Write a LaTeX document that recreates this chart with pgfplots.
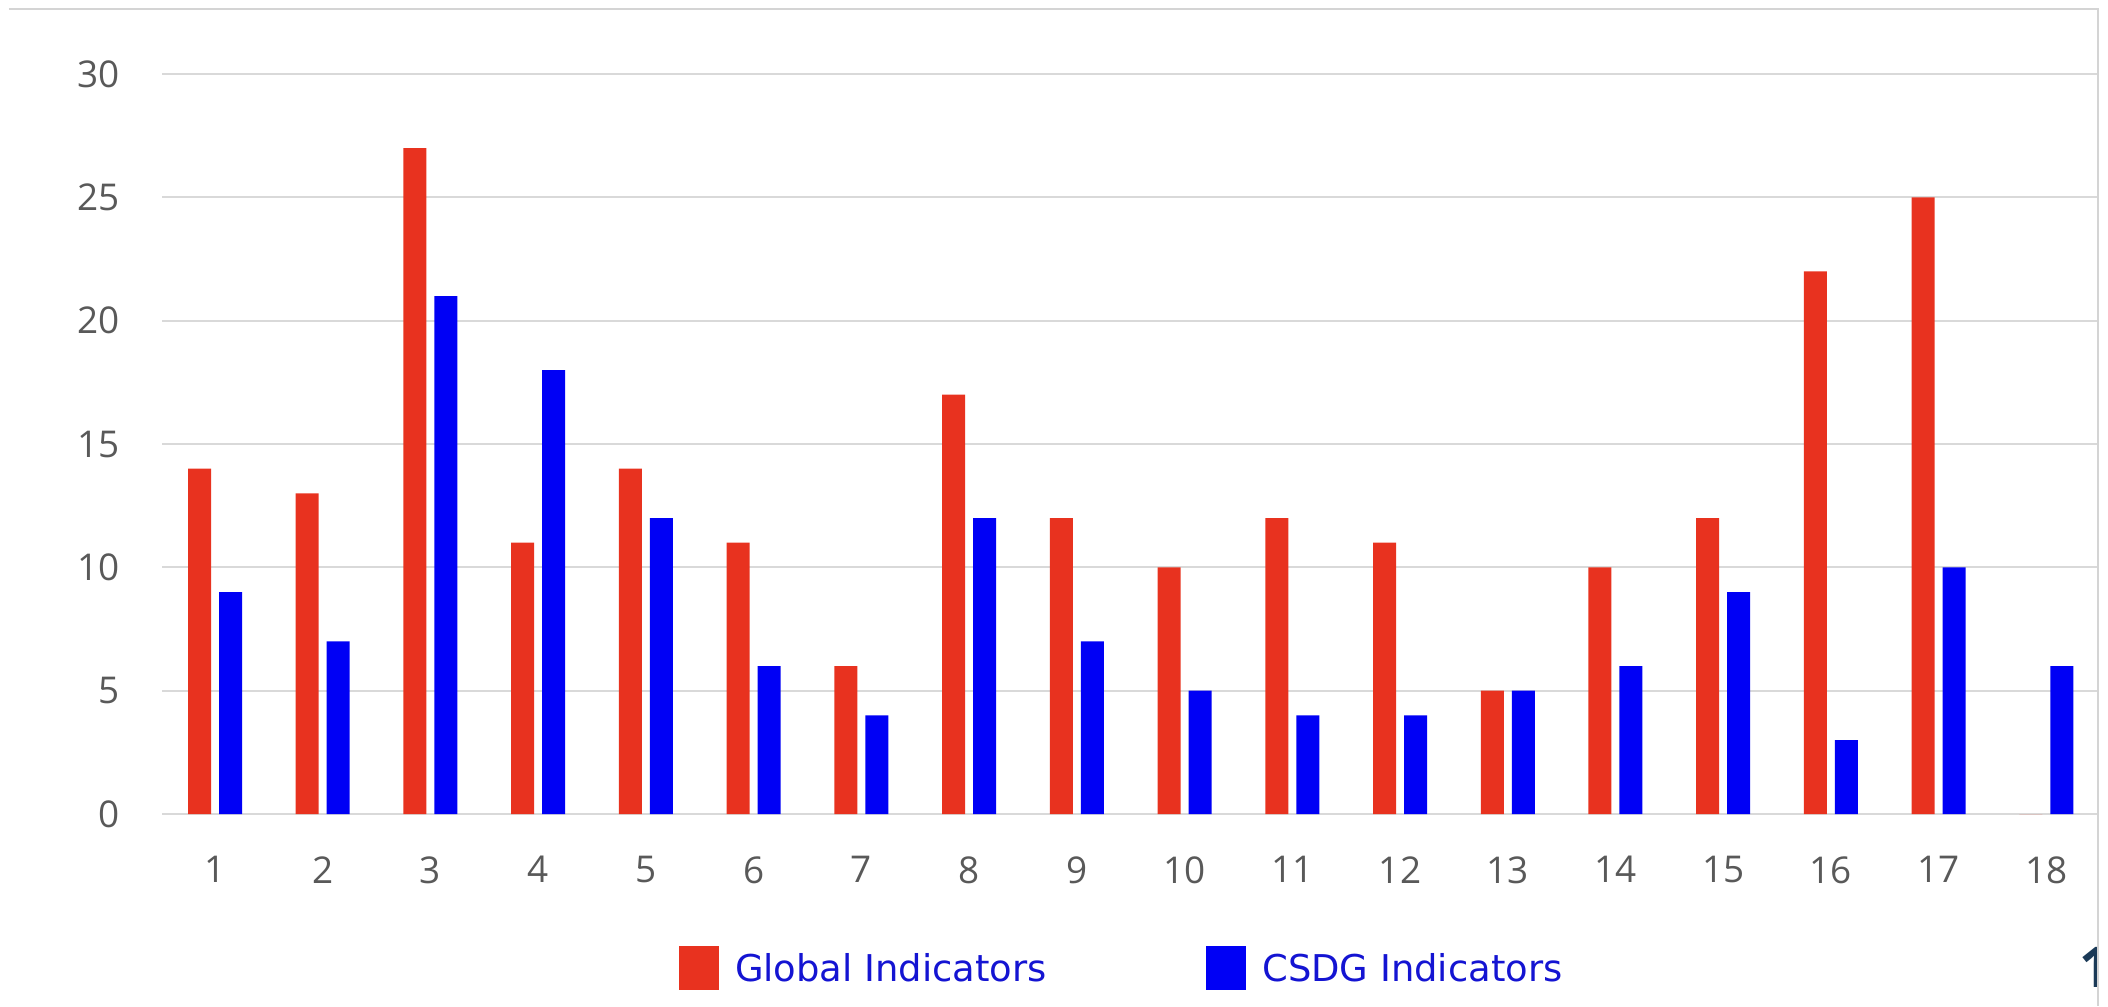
\documentclass[border=0pt]{standalone}
\usepackage{pgfplots}
\pgfplotsset{compat=1.18}
\usepackage{fontspec}
\setmainfont{Open Sans}
\newfontfamily\legfont{DejaVu Sans}
\definecolor{barred}{HTML}{E8321F}
\definecolor{barblue}{HTML}{0000F5}
\definecolor{legblue}{HTML}{1414D2}
\definecolor{gridgray}{HTML}{D9D9D9}
\definecolor{ticktext}{HTML}{595959}
\definecolor{framegray}{HTML}{D4D4D4}
\definecolor{navy}{HTML}{1B3A57}

\pgfplotstableread{
cat global csdg
1 14 9
2 13 7
3 27 21
4 11 18
5 14 12
6 11 6
7 6 4
8 17 12
9 12 7
10 10 5
11 12 4
12 11 4
13 5 5
14 10 6
15 12 9
16 22 3
17 25 10
18 0 6
}\datatable

\begin{document}
\begin{tikzpicture}
\useasboundingbox (0,0) rectangle (21.08cm,10.06cm);
\begin{axis}[
  at={(1.62cm,1.92cm)}, anchor=south west,
  scale only axis,
  width=19.35cm, height=7.40cm,
  ybar=0.08cm, bar width=0.23cm,
  xmin=0.508, xmax=18.47,
  ymin=0, ymax=30,
  xtick=data, ytick={0,5,...,30},
  separate axis lines,
  axis x line*=bottom, axis y line*=left,
  x axis line style={draw=gridgray, line width=0.6pt, -},
  y axis line style={draw=none},
  major tick length=0pt,
  ymajorgrids,
  grid style={draw=gridgray, line width=0.6pt},
  /pgf/number format/assume math mode=true,
  tick label style={font=\fontsize{10.5}{12}\selectfont, text=ticktext},
  y tick label style={xshift=-0.3cm},
  x tick label style={yshift=-0.3cm},
  legend columns=2,
  legend style={at={(0.267,-0.211)}, anchor=west, draw=none, fill=none,
    inner sep=0pt, outer sep=0pt,
    font=\legfont\fontsize{10.5}{12}\selectfont, text=legblue,
    /tikz/every odd column/.append style={column sep=0.094cm},
    /tikz/every even column/.append style={column sep=1.52cm}},
  legend image code/.code={\fill[#1, draw=none] (0cm,-0.2cm) rectangle (0.4cm,0.24cm);},
]
\addplot[fill=barred, draw=none] table[x=cat, y=global] {\datatable};
\addplot[fill=barblue, draw=none] table[x=cat, y=csdg] {\datatable};
\legend{Global Indicators, CSDG Indicators}
\end{axis}
\begin{scope}
\clip (20cm,0cm) rectangle (20.97cm,2cm);
\node[anchor=base west, inner sep=0pt, text=navy, font=\fontsize{16}{18}\selectfont\bfseries] at (20.79cm,0.19cm) {1};
\end{scope}
\draw[framegray, line width=0.8pt] (0.09cm,9.97cm) -- (20.98cm,9.97cm) -- (20.98cm,0cm);
\end{tikzpicture}
\end{document}
